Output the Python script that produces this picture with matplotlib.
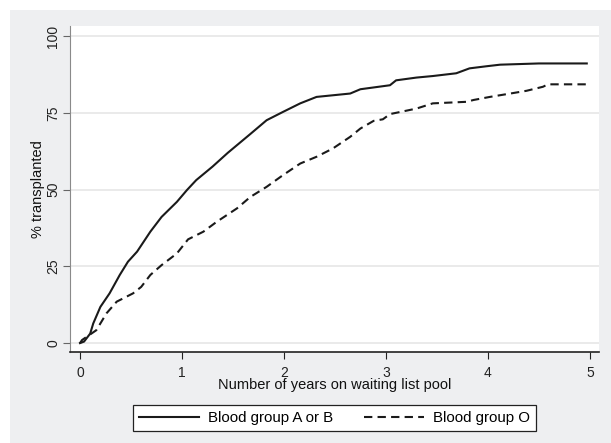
import matplotlib
matplotlib.use('Agg')
import matplotlib.pyplot as plt
from matplotlib.patches import Rectangle

plt.rcParams['font.family'] = ['Liberation Sans', 'DejaVu Sans']

# years on waiting list vs % transplanted
years_ab = [0, 0.04, 0.1, 0.13, 0.2, 0.29, 0.39, 0.47, 0.56, 0.69, 0.8, 0.95, 1.05, 1.14,
            1.3, 1.45, 1.67, 1.83, 1.99, 2.16, 2.32, 2.65, 2.75, 3.04, 3.1, 3.3, 3.46,
            3.69, 3.82, 3.99, 4.12, 4.5, 4.97]
pct_ab = [0, 0.5, 3.1, 6.4, 11.8, 16.2, 22.2, 26.5, 29.8, 36.3, 41.1, 46.0, 49.9, 53.1,
          57.5, 62.0, 68.1, 72.6, 75.3, 78.1, 80.2, 81.3, 82.7, 84.0, 85.6, 86.5, 87.0,
          87.9, 89.5, 90.2, 90.7, 91.1, 91.1]

years_o = [0, 0.02, 0.16, 0.26, 0.36, 0.52, 0.6, 0.69, 0.8, 0.95, 1.06, 1.21, 1.34, 1.54,
           1.67, 1.83, 1.99, 2.16, 2.32, 2.48, 2.65, 2.75, 2.88, 2.97, 3.04, 3.3, 3.46,
           3.79, 3.86, 4.02, 4.22, 4.38, 4.54, 4.59, 4.98]
pct_o = [0, 1.0, 4.2, 9.7, 13.5, 16.2, 18.3, 22.2, 25.4, 29.2, 33.8, 36.3, 39.5, 43.9,
         47.6, 50.9, 54.7, 58.5, 60.7, 63.4, 67.2, 69.9, 72.4, 72.9, 74.6, 76.4, 78.1,
         78.6, 79.2, 80.2, 81.3, 82.2, 83.5, 84.3, 84.3]

labels = ['Blood group A or B', 'Blood group O']
xticks = [0, 1, 2, 3, 4, 5]
yticks = [0, 25, 50, 75, 100]

W, H = 611, 443
fig = plt.figure(figsize=(W / 100, H / 100), dpi=100, facecolor='white')
fig.patches.append(Rectangle((10 / W, 0), 1 - 10 / W, 1 - 10 / H, transform=fig.transFigure,
                             facecolor='#eeeff1', edgecolor='none', zorder=-5))

ax = fig.add_axes([70 / W, 1 - 352 / H, (599 - 70) / W, (352 - 26) / H])
ax.set_facecolor('white')

ax.plot(years_ab, pct_ab, color='#1a1a1a', lw=1.5, label=labels[0], solid_joinstyle='round')
ax.plot(years_o, pct_o, color='#1a1a1a', lw=1.5, ls=(0, (4, 2.5)), label=labels[1])

ax.set_xlim(-0.098, 5.09)
ax.set_ylim(-2.9, 103.3)
ax.set_xticks(xticks)
ax.set_yticks(yticks)
ax.set_yticklabels([str(v) for v in yticks], rotation=90, va='center')
ax.grid(axis='y', color='#e6e6e6', lw=1.2)
ax.set_axisbelow(True)

for s in ['top', 'right']:
    ax.spines[s].set_visible(False)
ax.spines['left'].set_color('#8a8a8a')
ax.spines['bottom'].set_color('#222222')
ax.spines['bottom'].set_linewidth(1.2)
ax.tick_params(axis='y', length=5, color='#666666', labelsize=10, pad=2, labelcolor='#222222')
ax.tick_params(axis='x', length=5, color='#222222', labelsize=10, pad=5, labelcolor='#222222')

ax.set_xlabel('Number of years on waiting list pool', fontsize=10.5, labelpad=-1, color='#111111')
ax.set_ylabel('% transplanted', fontsize=10.5, labelpad=1, color='#111111')

leg = ax.legend(loc='upper center', bbox_to_anchor=(0.5, -0.14), ncol=2, frameon=True,
                fancybox=False, edgecolor='#222222', facecolor='white', framealpha=1,
                fontsize=10.8, handlelength=4.0, columnspacing=2.0, borderpad=0.4,
                handletextpad=0.6)
leg.get_frame().set_linewidth(0.9)

fig.savefig('out.png', dpi=100, facecolor=fig.get_facecolor())
